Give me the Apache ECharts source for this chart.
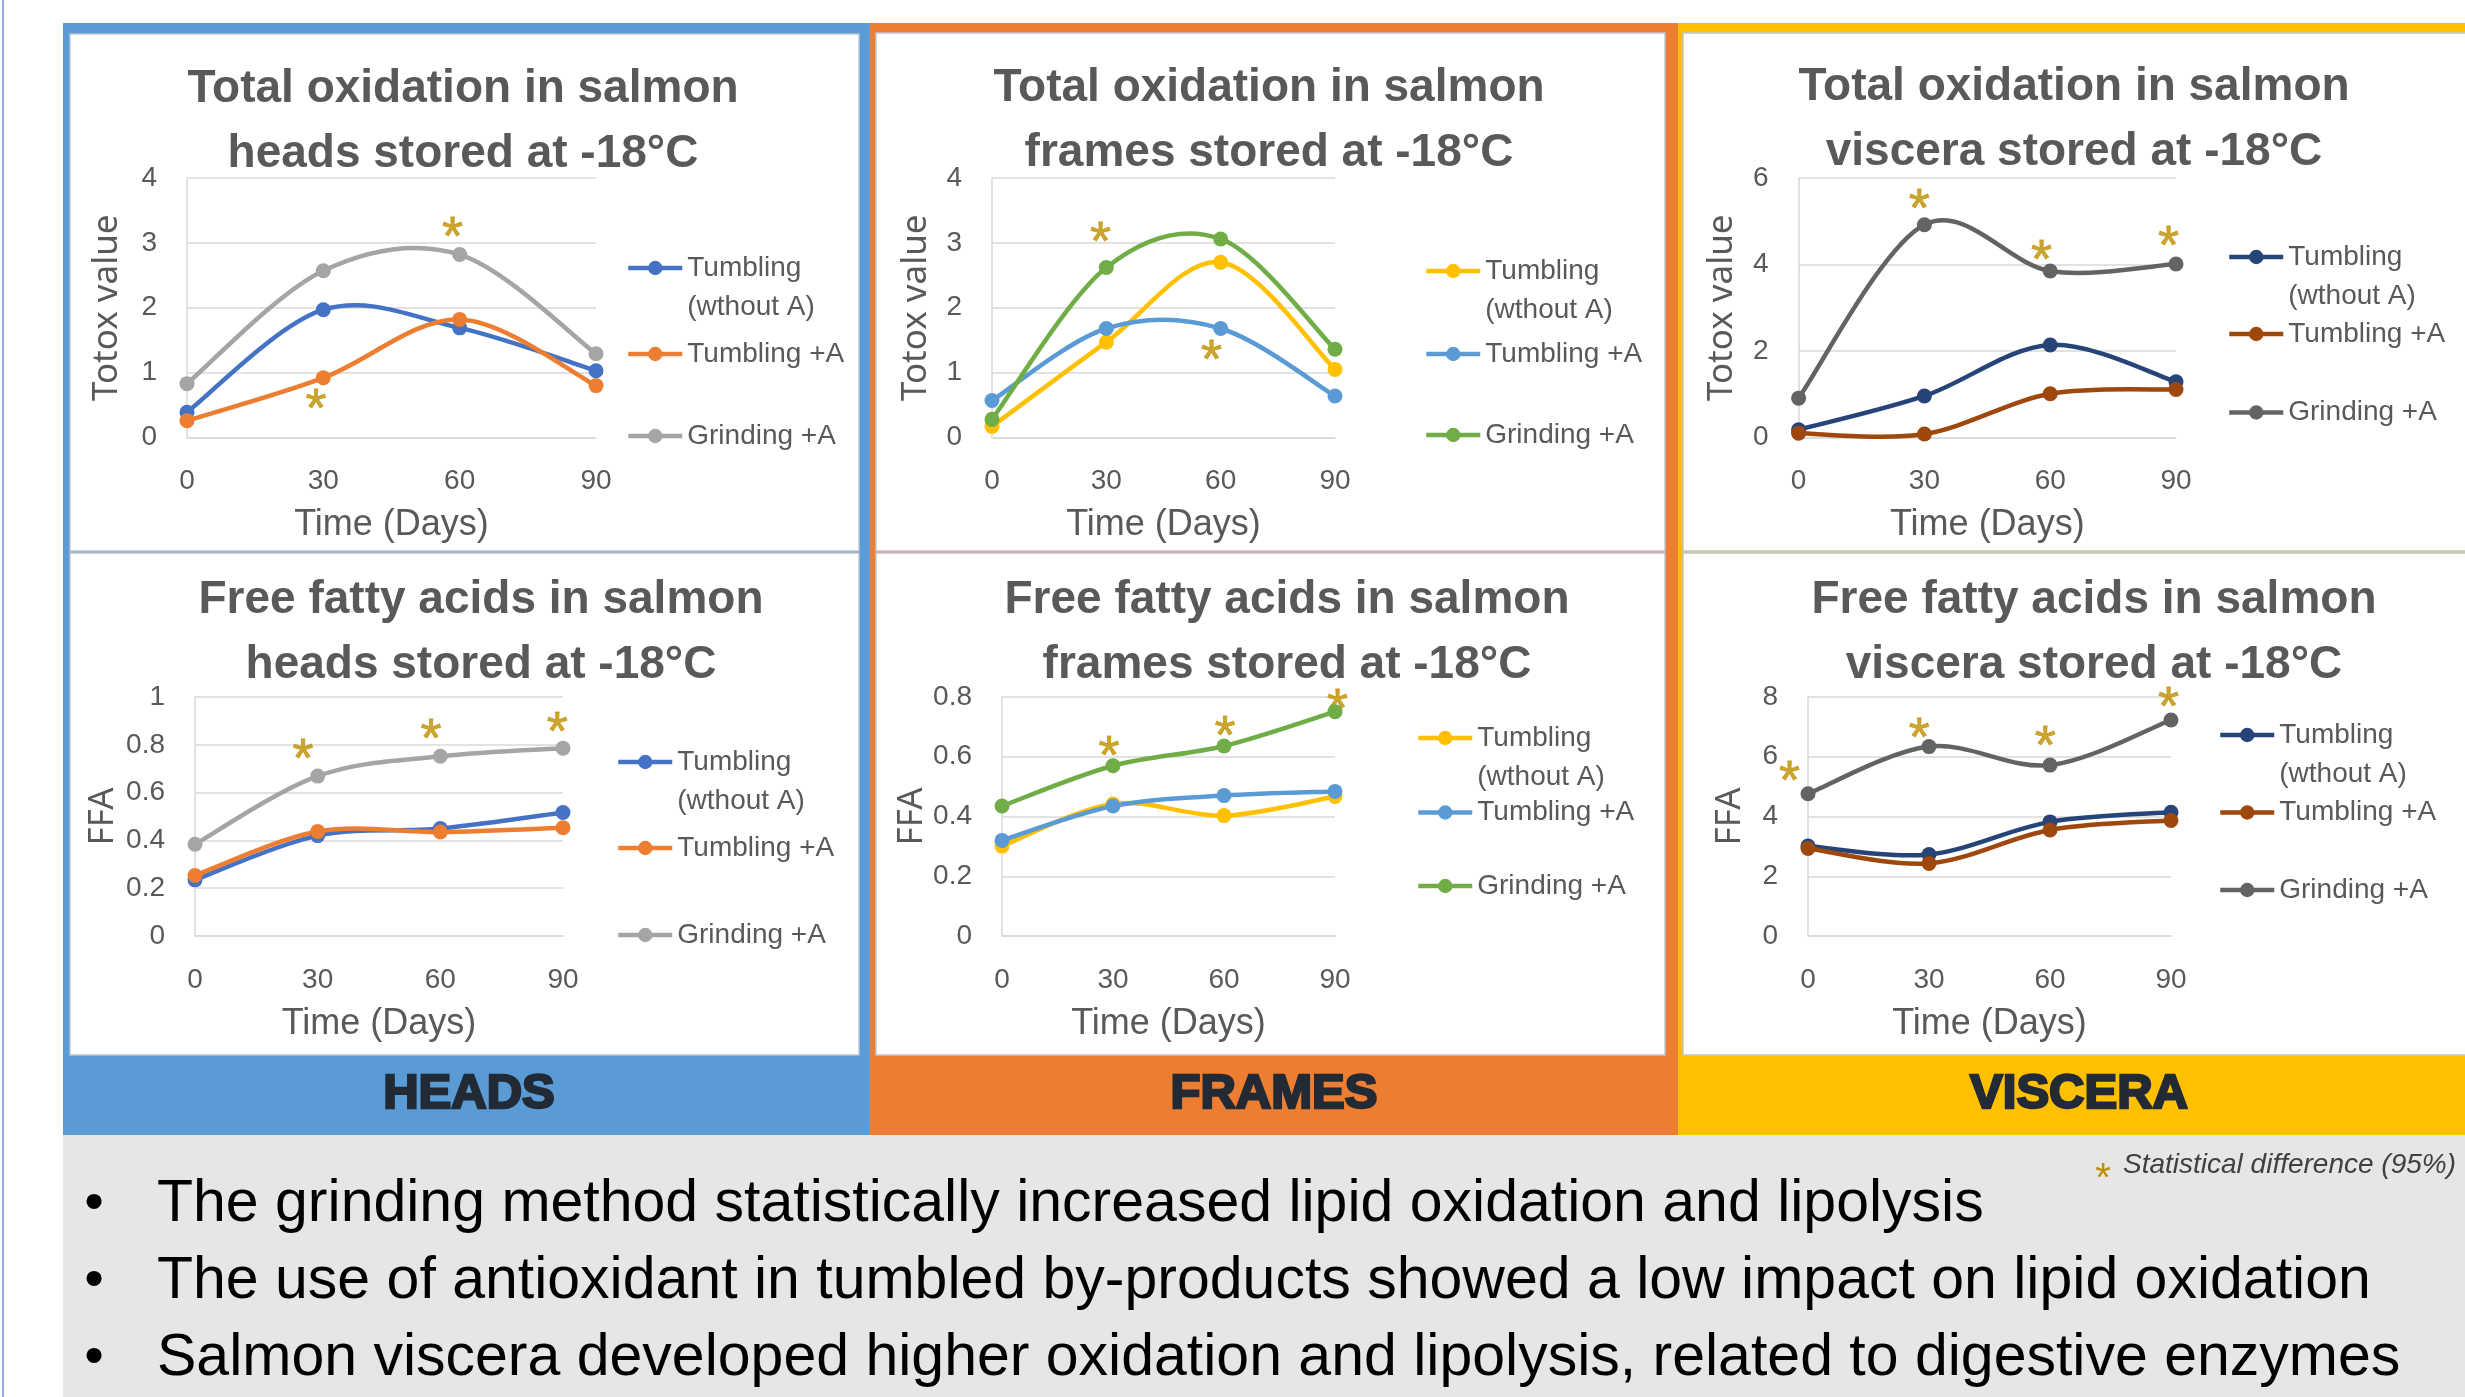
<!DOCTYPE html>
<html>
<head>
<meta charset="utf-8">
<title>Lipid oxidation and lipolysis in salmon by-products</title>
<script src="https://cdn.jsdelivr.net/npm/echarts@6/dist/echarts.min.js"></script>
<style>
  html, body { margin: 0; padding: 0; background: #fff; }
  #chart { width: 2465px; height: 1397px; }
</style>
</head>
<body>
<div id="chart"></div>
<script>
// storage time, days (x axis of every chart)
const days = [0, 30, 60, 90];
const seriesNames = ['Tumbling (wthout A)', 'Tumbling +A', 'Grinding +A'];

// Totox value
const headsTotoxTumbling = [0.39, 1.97, 1.69, 1.03];
const headsTotoxTumblingA = [0.26, 0.92, 1.82, 0.80];
const headsTotoxGrinding = [0.83, 2.57, 2.82, 1.29];
const headsTotoxStars = [[28.4, 0.63], [58.4, 3.28]];

const framesTotoxTumbling = [0.17, 1.47, 2.70, 1.05];
const framesTotoxTumblingA = [0.57, 1.68, 1.68, 0.64];
const framesTotoxGrinding = [0.28, 2.62, 3.06, 1.36];
const framesTotoxStars = [[28.5, 3.19], [57.6, 1.38]];

const visceraTotoxTumbling = [0.18, 0.96, 2.14, 1.29];
const visceraTotoxTumblingA = [0.10, 0.08, 1.01, 1.11];
const visceraTotoxGrinding = [0.91, 4.92, 3.85, 4.01];
const visceraTotoxStars = [[28.8, 5.56], [57.9, 4.37], [88.2, 4.70]];

// FFA
const headsFfaTumbling = [0.235, 0.42, 0.45, 0.517];
const headsFfaTumblingA = [0.253, 0.437, 0.435, 0.453];
const headsFfaGrinding = [0.384, 0.669, 0.752, 0.786];
const headsFfaStars = [[26.4, 0.792], [57.7, 0.872], [88.6, 0.904]];

const framesFfaTumbling = [0.301, 0.442, 0.403, 0.467];
const framesFfaTumblingA = [0.32, 0.435, 0.47, 0.484];
const framesFfaGrinding = [0.435, 0.570, 0.636, 0.751];
const framesFfaStars = [[28.9, 0.643], [60.3, 0.710], [90.7, 0.80]];

const visceraFfaTumbling = [3.01, 2.73, 3.82, 4.14];
const visceraFfaTumblingA = [2.93, 2.43, 3.55, 3.87];
const visceraFfaGrinding = [4.76, 6.34, 5.72, 7.23];
const visceraFfaStars = [[-4.6, 5.6], [27.6, 7.04], [58.8, 6.75], [89.4, 8.07]];

const conclusions = [
  'The grinding method statistically increased lipid oxidation and lipolysis',
  'The use of antioxidant in tumbled by-products showed a low impact on lipid oxidation',
  'Salmon viscera developed higher oxidation and lipolysis, related to digestive enzymes'
];

const BODY = "'Liberation Sans', Arial, sans-serif";
const SANS = "'Noto Sans', 'Open Sans', sans-serif";
const GREY_TEXT = '#595959';
const GRID_LINE = '#D9D9D9';
const STAR = '#BF9000';
const LEGEND_LH = 39;
const LINE_W = 4.5;

const headsColors = ['#4472C4', '#ED7D31', '#A5A5A5'];
const framesColors = ['#FFC000', '#5B9BD5', '#70AD47'];
const visceraColors = ['#264478', '#9E480E', '#636363'];

// one entry per small chart (layout only, values come from the arrays above)
const charts = [
  { key: 'hT', title: 'Total oxidation in salmon\nheads stored at -18°C', yName: 'Totox value', yMax: 4, yStep: 1,
    lines: [headsTotoxTumbling, headsTotoxTumblingA, headsTotoxGrinding], stars: headsTotoxStars, colors: headsColors,
    grid: [187, 178, 409, 259.5], nameGap: 62, titleAt: [463, 121.5], legendX: 626, legendY: [268, 354, 436] },
  { key: 'fT', title: 'Total oxidation in salmon\nframes stored at -18°C', yName: 'Totox value', yMax: 4, yStep: 1,
    lines: [framesTotoxTumbling, framesTotoxTumblingA, framesTotoxGrinding], stars: framesTotoxStars, colors: framesColors,
    grid: [992, 178, 343, 259.5], nameGap: 58, titleAt: [1269, 120.5], legendX: 1424, legendY: [271, 354, 435] },
  { key: 'vT', title: 'Total oxidation in salmon\nviscera stored at -18°C', yName: 'Totox value', yMax: 6, yStep: 2,
    lines: [visceraTotoxTumbling, visceraTotoxTumblingA, visceraTotoxGrinding], stars: visceraTotoxStars, colors: visceraColors,
    grid: [1798.6, 178, 377.4, 259.5], nameGap: 59, titleAt: [2074, 120], legendX: 2227, legendY: [257, 334, 412.5] },
  { key: 'hF', title: 'Free fatty acids in salmon\nheads stored at -18°C', yName: 'FFA', yMax: 1, yStep: 0.2,
    lines: [headsFfaTumbling, headsFfaTumblingA, headsFfaGrinding], stars: headsFfaStars, colors: headsColors,
    grid: [195, 697, 368, 239], nameGap: 74, titleAt: [481, 632.5], legendX: 616, legendY: [762, 848, 935] },
  { key: 'fF', title: 'Free fatty acids in salmon\nframes stored at -18°C', yName: 'FFA', yMax: 0.8, yStep: 0.2,
    lines: [framesFfaTumbling, framesFfaTumblingA, framesFfaGrinding], stars: framesFfaStars, colors: framesColors,
    grid: [1002, 697, 333, 239], nameGap: 72, titleAt: [1287, 632.5], legendX: 1416, legendY: [738, 812.5, 886] },
  { key: 'vF', title: 'Free fatty acids in salmon\nviscera stored at -18°C', yName: 'FFA', yMax: 8, yStep: 2,
    lines: [visceraFfaTumbling, visceraFfaTumblingA, visceraFfaGrinding], stars: visceraFfaStars, colors: visceraColors,
    grid: [1808, 697, 363, 239], nameGap: 60, titleAt: [2094, 632.5], legendX: 2218, legendY: [735, 812.5, 890] }
];

// Excel style smoothed line: cubic bezier, tangents (next - prev) / 6, drawn in pixel space
function excelCurve(params, api) {
  if (params.dataIndexInside !== 0) return null;
  const n = params.dataInsideLength;
  const pts = [];
  for (let k = 0; k < n; k++) pts.push(api.coord([api.value(0, k), api.value(1, k)]));
  const segs = [];
  for (let k = 0; k < n - 1; k++) {
    const p0 = pts[Math.max(k - 1, 0)], p1 = pts[k], p2 = pts[k + 1], p3 = pts[Math.min(k + 2, n - 1)];
    segs.push({
      type: 'bezierCurve',
      shape: {
        x1: p1[0], y1: p1[1], x2: p2[0], y2: p2[1],
        cpx1: p1[0] + (p2[0] - p0[0]) / 6, cpy1: p1[1] + (p2[1] - p0[1]) / 6,
        cpx2: p2[0] - (p3[0] - p1[0]) / 6, cpy2: p2[1] - (p3[1] - p1[1]) / 6
      },
      style: { fill: null, stroke: api.visual('color'), lineWidth: LINE_W, lineCap: 'round' }
    });
  }
  return { type: 'group', children: segs };
}

const option = {
  animation: false,
  backgroundColor: '#ffffff',
  grid: [], xAxis: [], yAxis: [], legend: [], series: [], graphic: []
};

const tickLabel = { color: GREY_TEXT, fontSize: 28, fontFamily: BODY };

charts.forEach((c, i) => {
  option.grid.push({
    left: c.grid[0], top: c.grid[1], width: c.grid[2], height: c.grid[3],
    containLabel: false, outerBoundsMode: 'none'
  });
  option.xAxis.push({
    type: 'value', gridIndex: i, min: 0, max: 90, interval: 30,
    name: 'Time (Days)', nameLocation: 'middle', nameGap: 70,
    nameTextStyle: { color: GREY_TEXT, fontSize: 36, fontFamily: BODY },
    axisLine: { show: true, onZero: false, lineStyle: { color: GRID_LINE, width: 1.5 } },
    axisTick: { show: false },
    splitLine: { show: false },
    axisLabel: Object.assign({ margin: 30 }, tickLabel)
  });
  option.yAxis.push({
    type: 'value', gridIndex: i, min: 0, max: c.yMax, interval: c.yStep,
    name: c.yName, nameLocation: 'middle', nameGap: c.nameGap,
    nameTextStyle: { color: GREY_TEXT, fontSize: 35, fontFamily: SANS },
    axisLine: { show: true, onZero: false, lineStyle: { color: GRID_LINE, width: 1.5 } },
    axisTick: { show: false },
    splitLine: { show: true, lineStyle: { color: GRID_LINE, width: 1.5 } },
    axisLabel: Object.assign({ margin: 30 }, tickLabel)
  });

  c.lines.forEach((vals, j) => {
    const name = c.key + '|' + seriesNames[j];
    const pts = days.map((d, k) => [d, vals[k]]);
    // the smoothed curve
    option.series.push({
      type: 'custom', name: c.key + '|curve' + j, xAxisIndex: i, yAxisIndex: i,
      data: pts, renderItem: excelCurve, silent: true,
      itemStyle: { color: c.colors[j] }
    });
    // markers (and legend entry); its own line is hidden
    option.series.push({
      type: 'line', name: name, xAxisIndex: i, yAxisIndex: i,
      data: pts,
      symbol: 'circle', symbolSize: 15,
      lineStyle: { width: LINE_W, color: c.colors[j], opacity: 0 },
      itemStyle: { color: c.colors[j] }
    });
    // one legend per entry so each sits where Excel put it
    const lines = j === 0 ? 3 : 1;
    option.legend.push({
      data: [name], orient: 'vertical', selectedMode: false,
      left: c.legendX, top: c.legendY[j] - lines * LEGEND_LH / 2,
      padding: 0, itemGap: 0, itemWidth: 54, itemHeight: 18,
      lineStyle: { width: LINE_W, opacity: 1 },
      textStyle: { color: GREY_TEXT, fontSize: 28, fontFamily: BODY, lineHeight: LEGEND_LH },
      formatter: (n) => {
        const label = n.split('|')[1];
        return label === 'Tumbling (wthout A)' ? '\nTumbling\n(wthout A)' : label;
      }
    });
  });

  // significance asterisks
  option.series.push({
    type: 'scatter', name: c.key + '|stars', xAxisIndex: i, yAxisIndex: i,
    data: c.stars, symbolSize: 1, clip: false, silent: true,
    itemStyle: { color: 'transparent' },
    label: { show: true, position: 'inside', formatter: '*', color: STAR, fontSize: 54, fontFamily: BODY,
      textBorderColor: STAR, textBorderWidth: 0.8, offset: [0, 14] }
  });

  option.graphic.push({
    type: 'text', z: 50,
    style: {
      text: c.title, x: c.titleAt[0], y: c.titleAt[1],
      align: 'center', verticalAlign: 'middle', textAlign: 'center', textVerticalAlign: 'middle',
      fontSize: 46, fontWeight: 'bold', fontFamily: BODY, lineHeight: 65, fill: GREY_TEXT
    }
  });
});

// background panels
const panelRects = [
  { x: 63, y: 23, width: 806, height: 1112, fill: '#5B9BD5' },
  { x: 869, y: 23, width: 809, height: 1112, fill: '#ED7D31' },
  { x: 1678, y: 23, width: 800, height: 1112, fill: '#FFC000' },
  { x: 63, y: 1135, width: 2410, height: 270, fill: '#E7E6E6' },
  { x: 2, y: 0, width: 2, height: 1397, fill: '#8FAADC' }
];
panelRects.forEach(r => {
  option.graphic.push({ type: 'rect', z: -10, shape: { x: r.x, y: r.y, width: r.width, height: r.height }, style: { fill: r.fill } });
});
const whiteBoxes = [
  [70, 34, 789, 517], [70, 553, 789, 502],
  [876, 33, 789, 518], [876, 553, 789, 502],
  [1683, 33, 800, 518], [1683, 553, 800, 502]
];
whiteBoxes.forEach(b => {
  option.graphic.push({ type: 'rect', z: -9, shape: { x: b[0], y: b[1], width: b[2], height: b[3] },
    style: { fill: '#ffffff', stroke: '#BFC5CF', lineWidth: 1.5 } });
});

// band labels
[['HEADS', 469], ['FRAMES', 1274], ['VISCERA', 2079]].forEach(([t, x]) => {
  option.graphic.push({ type: 'text', z: 50, style: {
    text: t, x: x, y: 1094, align: 'center', verticalAlign: 'middle', textAlign: 'center', textVerticalAlign: 'middle',
    fontSize: 49, fontWeight: 'bold', fontFamily: BODY,
    fill: '#222A35', stroke: '#222A35', lineWidth: 2.5
  } });
});

// conclusions
conclusions.forEach((t, k) => {
  const y = 1205 + k * 77;
  option.graphic.push({ type: 'text', z: 50, style: {
    text: '•', x: 94, y: y, align: 'center', verticalAlign: 'middle', textAlign: 'center', textVerticalAlign: 'middle',
    fontSize: 56, fontFamily: BODY, fill: '#000000' } });
  option.graphic.push({ type: 'text', z: 50, style: {
    text: t, x: 157, y: y, align: 'left', verticalAlign: 'middle', textAlign: 'left', textVerticalAlign: 'middle',
    fontSize: 59, fontFamily: BODY, fill: '#000000' } });
});

// significance note
option.graphic.push({ type: 'text', z: 50, style: {
  text: '*', x: 2103, y: 1180, align: 'center', verticalAlign: 'middle', textAlign: 'center', textVerticalAlign: 'middle',
  fontSize: 40, fontFamily: BODY, fill: STAR } });
option.graphic.push({ type: 'text', z: 50, style: {
  text: 'Statistical difference (95%)', x: 2123, y: 1165, align: 'left', verticalAlign: 'middle', textAlign: 'left', textVerticalAlign: 'middle',
  fontSize: 28, fontStyle: 'italic', fontFamily: BODY, fill: '#404040' } });

const chart = echarts.init(document.getElementById('chart'));
chart.setOption(option);
</script>
</body>
</html>
